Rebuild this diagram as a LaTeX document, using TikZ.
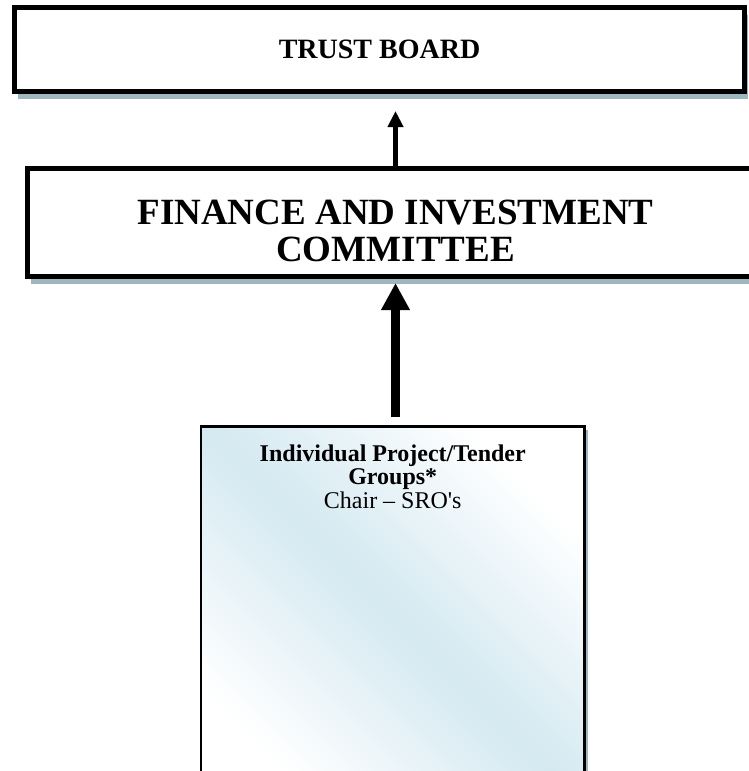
\documentclass[tikz,border=0pt]{standalone}
\usepackage{fontspec}
\setmainfont{Liberation Serif}
\usetikzlibrary{arrows.meta,shadows}
\definecolor{shadowcol}{RGB}{158,182,192}
\definecolor{groupblue}{RGB}{212,233,241}
\begin{document}
\begin{tikzpicture}[x=1pt,y=-1pt,
  thickbox/.style={draw=black, line width=5pt, fill=white, inner sep=0pt,
    drop shadow={shadow xshift=3pt, shadow yshift=-7.5pt, fill=shadowcol, opacity=1}},
  groupbox/.style={draw=black, line width=2.5pt, inner sep=0pt,
    shading=axis, top color=white, bottom color=white, middle color=groupblue,
    shading angle=-45,
    drop shadow={shadow xshift=3pt, shadow yshift=-3pt, fill=shadowcol, opacity=1}},
  smallarrow/.style={line width=5pt, -{Triangle[width=15pt,length=16pt]}},
  bigarrow/.style={line width=9pt, -{Triangle[width=27pt,length=27pt]}},
  titlefont/.style={font=\bfseries\fontsize{28}{32}\selectfont},
  ficfont/.style={font=\bfseries\fontsize{37}{37}\selectfont, align=center},
  groupfont/.style={font=\fontsize{24}{23.5}\selectfont, align=center}
]
\useasboundingbox (0,0) rectangle (749,771);

% Trust board
\node[thickbox, titlefont, minimum width=730pt, minimum height=84pt]
  (trust) at (379.5,49.5) {TRUST BOARD};

% Finance and Investment Committee (runs past the right edge)
\node[thickbox, minimum width=736pt, minimum height=108pt]
  (fic) at (395.5,222.5) {};
\node[ficfont] (fictext) at ([yshift=-8pt]fic.center) {FINANCE AND INVESTMENT\\COMMITTEE};

% Project / tender groups box (runs past the bottom edge)
\node[groupbox, minimum width=383.5pt, minimum height=373.5pt]
  (group) at (392.75,613.25) {};
\node[groupfont, anchor=north] (grouptext) at ([yshift=-16pt]group.north)
  {\textbf{Individual Project/Tender}\\\textbf{Groups*}\\Chair – SRO\textquotesingle s};

% Reporting lines
\draw[smallarrow, shorten >=17pt] (fic.north) -- (fic.north |- trust.south);
\draw[bigarrow, shorten <=8pt, shorten >=4pt] (fic.south |- group.north) -- (fic.south);
\end{tikzpicture}
\end{document}
